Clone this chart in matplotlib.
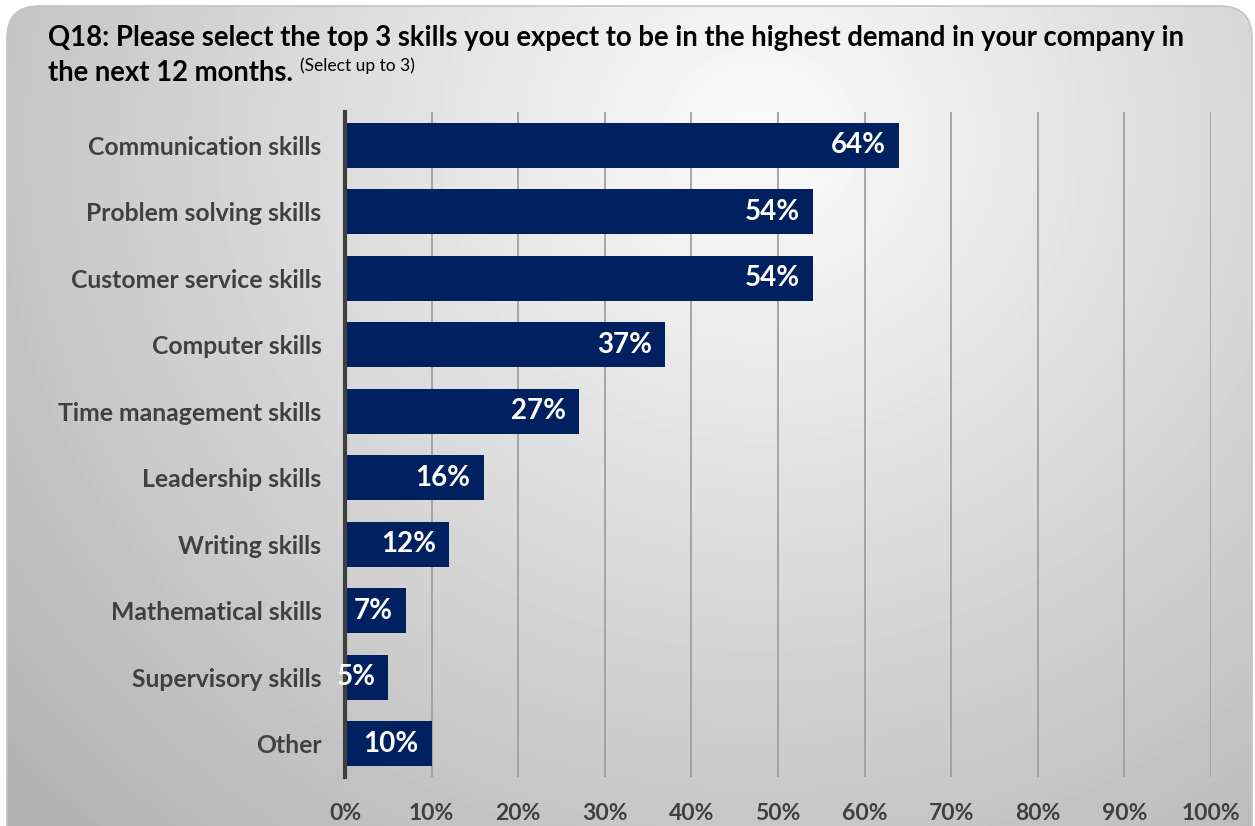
import numpy as np
import matplotlib.pyplot as plt
from matplotlib.patches import FancyBboxPatch
from matplotlib.ticker import MultipleLocator, FuncFormatter

plt.rcParams['font.family'] = ['Lato', 'DejaVu Sans']

skills = ['Communication skills', 'Problem solving skills', 'Customer service skills',
          'Computer skills', 'Time management skills', 'Leadership skills',
          'Writing skills', 'Mathematical skills', 'Supervisory skills', 'Other']
pct = [64, 54, 54, 37, 27, 16, 12, 7, 5, 10]

navy = '#00205F'
text_grey = '#404040'

fig = plt.figure(figsize=(12.55, 8.26), dpi=100)

# shaded rounded panel behind the chart
bg = fig.add_axes([0, 0, 1, 1], zorder=-10)
bg.set_xlim(0, 1255)
bg.set_ylim(826, 0)
bg.axis('off')
yy, xx = np.mgrid[0:826, 0:1255]
dist = np.hypot((xx - 760) / 850, (yy - 140) / 800)
shade = np.clip(0.985 - 0.24 * dist, 0, 1)
img = bg.imshow(shade, cmap='gray', vmin=0, vmax=1, extent=(0, 1255, 826, 0),
                interpolation='bilinear', aspect='auto')
panel = FancyBboxPatch((7, 6), 1245, 860, boxstyle='round,pad=0,rounding_size=32',
                       transform=bg.transData, facecolor='none', edgecolor='#c4c4c4',
                       linewidth=1.2)
bg.add_patch(panel)
img.set_clip_path(panel)

ax = fig.add_axes([345 / 1255, 1 - 777 / 826, (1211 - 345) / 1255, (777 - 112) / 826])
ax.patch.set_alpha(0)

y = np.arange(len(skills))
ax.barh(y, pct, height=0.68, color=navy, zorder=3)
for yi, v in zip(y, pct):
    ax.text(v - 1.5, yi, f'{v}%', ha='right', va='center', color='white',
            fontsize=20, fontweight='bold', zorder=6)

ax.set_xlim(0, 100)
ax.set_ylim(len(skills) - 0.5, -0.5)
ax.set_yticks(y)
ax.set_yticklabels(skills, fontsize=17.8, fontweight='bold', color=text_grey)
ax.xaxis.set_major_locator(MultipleLocator(10))
ax.xaxis.set_major_formatter(FuncFormatter(lambda v, _: f'{v:.0f}%'))
for lbl in ax.get_xticklabels():
    lbl.set_fontsize(16.5)
    lbl.set_fontweight('bold')
    lbl.set_color(text_grey)
ax.tick_params(axis='both', length=0)
ax.tick_params(axis='x', pad=19)
ax.tick_params(axis='y', pad=17)

ax.grid(axis='x', color='#a0a0a0', linewidth=1.3, zorder=1)
for s in ['top', 'right', 'bottom']:
    ax.spines[s].set_visible(False)
ax.spines['left'].set_color(text_grey)
ax.spines['left'].set_linewidth(3)
ax.spines['left'].set_zorder(5)

fig.text(48 / 1255, 1 - 38 / 826,
         'Q18: Please select the top 3 skills you expect to be in the highest demand in your company in',
         fontsize=19.8, fontweight='bold', color='black', va='center')
line2 = fig.text(48 / 1255, 1 - 73 / 826, 'the next 12 months. ',
                 fontsize=19.8, fontweight='bold', color='black', va='center')
fig.canvas.draw()
x_end = line2.get_window_extent().x1 / fig.bbox.width
fig.text(x_end, 1 - 66 / 826, '(Select up to 3)', fontsize=12.5, color='black', va='center')

fig.savefig('out.png', dpi=100)
